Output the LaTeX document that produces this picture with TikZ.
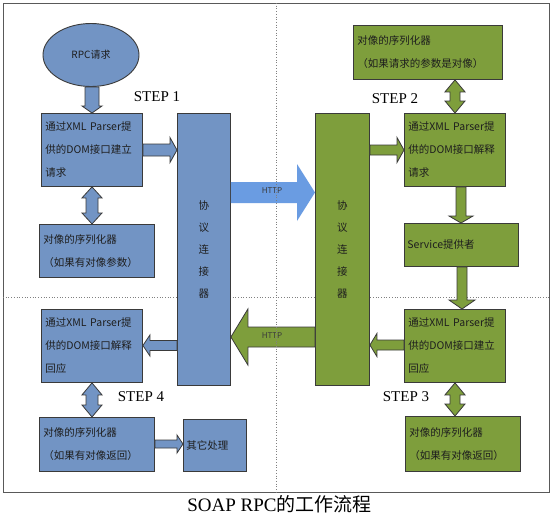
\documentclass[tikz,border=0pt]{standalone}
\usepackage{fontspec}
\setmainfont{Noto Sans CJK SC}
\newfontfamily\serifw{Liberation Serif}
\usetikzlibrary{calc,shapes.geometric}
\definecolor{bfill}{HTML}{7294C4}
\definecolor{gfill}{HTML}{7E9E3C}
\definecolor{hblue}{HTML}{6A9CE2}
\definecolor{edgec}{HTML}{3A3A3A}
\definecolor{txtc}{HTML}{1E1E1E}
% horizontal block arrow: style, from, to, Y, shaft half, head half, head length (signed)
\newcommand\harr[7]{\filldraw[#1] let \p1=(#2),\p2=(#3),\p3=(0,#4) in
 ({\x1},{\y3+#5pt}) -- ({\x2-(#7pt)},{\y3+#5pt}) -- ({\x2-(#7pt)},{\y3+#6pt}) -- ({\x2},{\y3})
 -- ({\x2-(#7pt)},{\y3-#6pt}) -- ({\x2-(#7pt)},{\y3-#5pt}) -- ({\x1},{\y3-#5pt}) -- cycle;}
% vertical block arrow going down
\newcommand\varr[7]{\filldraw[#1] let \p1=(#2),\p2=(#3),\p3=(#4,0) in
 ({\x3-#5pt},{\y1}) -- ({\x3-#5pt},{\y2+#7pt}) -- ({\x3-#6pt},{\y2+#7pt}) -- ({\x3},{\y2})
 -- ({\x3+#6pt},{\y2+#7pt}) -- ({\x3+#5pt},{\y2+#7pt}) -- ({\x3+#5pt},{\y1}) -- cycle;}
% vertical double block arrow
\newcommand\dvarr[7]{\filldraw[#1] let \p1=(#2),\p2=(#3),\p3=(#4,0) in
 ({\x3},{\y1}) -- ({\x3+#6pt},{\y1-#7pt}) -- ({\x3+#5pt},{\y1-#7pt}) -- ({\x3+#5pt},{\y2+#7pt})
 -- ({\x3+#6pt},{\y2+#7pt}) -- ({\x3},{\y2}) -- ({\x3-#6pt},{\y2+#7pt}) -- ({\x3-#5pt},{\y2+#7pt})
 -- ({\x3-#5pt},{\y1-#7pt}) -- ({\x3-#6pt},{\y1-#7pt}) -- cycle;}
\begin{document}
\begin{tikzpicture}[x=1pt,y=-1pt,
  box/.style={draw=edgec, line width=0.9pt, text=txtc, inner sep=0pt,
    font=\fontsize{10.5}{23}\selectfont, align=left, anchor=north west},
  bluebox/.style={box, fill=bfill},
  greenbox/.style={box, fill=gfill},
  protobox/.style={align=center, font=\fontsize{10.5}{22}\selectfont},
  barrow/.style={fill=bfill, draw=edgec, line width=0.8pt},
  garrow/.style={fill=gfill, draw=edgec, line width=0.8pt},
  harrow/.style={fill=hblue, draw=none},
  steplbl/.style={font=\serifw\fontsize{15}{18}\selectfont, text=black},
  httplbl/.style={font=\fontsize{8}{9}\selectfont, text=edgec}]
\useasboundingbox (0,0) rectangle (552,517);
\fill[white] (0,0) rectangle (552,517);
\draw[gray!70!black, line width=0.8pt] (3,3) rectangle (549,492);
\draw[gray, dotted, line width=0.7pt] (3,297) -- (549,297);

% left column
\node[ellipse, draw=edgec, line width=0.9pt, fill=bfill, minimum width=96pt, minimum height=63pt,
  inner sep=0pt, text=txtc, font=\fontsize{10}{12}\selectfont] (e) at (91,55) {RPC请求};
\node[bluebox, minimum width=101pt, minimum height=73pt, text width=93pt] (b1) at (41,113)
  {通过XML Parser提\\供的DOM接口建立\\请求};
\node[bluebox, minimum width=115pt, minimum height=53pt, text width=107pt] (b2) at (39,224)
  {对像的序列化器\\（如果有对像参数）};
\node[bluebox, protobox, minimum width=53pt, minimum height=272pt, text width=20pt] (p1) at (177,113)
  {协\\议\\连\\接\\器};
\node[bluebox, minimum width=101pt, minimum height=73pt, text width=93pt] (b4) at (41,309)
  {通过XML Parser提\\供的DOM接口解释\\回应};
\node[bluebox, minimum width=115pt, minimum height=54pt, text width=107pt] (b5) at (39,417)
  {对像的序列化器\\（如果有对像返回）};
\node[bluebox, minimum width=63pt, minimum height=52pt, text width=57pt] (oth) at (183,419)
  {其它处理};

% right column
\node[greenbox, protobox, minimum width=54pt, minimum height=272pt, text width=20pt] (p2) at (315,113)
  {协\\议\\连\\接\\器};
\node[greenbox, minimum width=149pt, minimum height=54pt, text width=141pt] (gt) at (353,25)
  {对像的序列化器\\（如果请求的参数是对像）};
\node[greenbox, minimum width=101pt, minimum height=73pt, text width=93pt] (g1) at (404,113)
  {通过XML Parser提\\供的DOM接口解释\\请求};
\node[greenbox, minimum width=114pt, minimum height=43pt, text width=108pt] (svc) at (404,223)
  {Service提供者};
\node[greenbox, minimum width=101pt, minimum height=73pt, text width=93pt] (g4) at (404,309)
  {通过XML Parser提\\供的DOM接口建立\\回应};
\node[greenbox, minimum width=115pt, minimum height=55pt, text width=107pt] (g5) at (405,416)
  {对像的序列化器\\（如果有对像返回）};

% arrows
\varr{barrow}{e.south}{b1.north}{92}{7}{10}{7}
\harr{barrow}{b1.east}{p1.west}{150}{6}{12.5}{7}
\dvarr{barrow}{b1.south}{b2.north}{92}{6}{10}{11}
\harr{harrow}{p1.east}{p2.west}{192.5}{10.5}{28.5}{18}
\harr{garrow}{p2.east}{g1.west}{150}{5}{12.5}{7}
\dvarr{garrow}{gt.south}{g1.north}{455}{5}{10}{12}
\varr{garrow}{g1.south}{svc.north}{461}{5}{12}{7}
\varr{garrow}{svc.south}{g4.north}{462}{5}{13}{9}
\harr{garrow}{g4.west}{p2.east}{345}{5}{11.5}{-7}
\dvarr{garrow}{g4.south}{g5.north}{455}{5}{10}{12}
\harr{garrow}{p2.west}{p1.east}{337}{10}{28}{-17}
\harr{barrow}{p1.west}{b4.east}{345.5}{5}{10.5}{-7}
\dvarr{barrow}{b4.south}{b5.north}{92}{6}{10}{12}
\harr{barrow}{b5.east}{oth.west}{444}{4}{9}{6}

\node[httplbl] (h1) at (272,191) {HTTP};
\node[httplbl] (h2) at (272,336) {HTTP};

\draw[gray, dotted, line width=0.7pt] (276,3) -- (276,492);

% labels
\node[steplbl] (s1) at (157,97) {STEP 1};
\node[steplbl] (s2) at (395,99) {STEP 2};
\node[steplbl] (s3) at (406,397) {STEP 3};
\node[steplbl] (s4) at (141,397) {STEP 4};
\node[font=\fontsize{19}{22}\selectfont, text=black] (title) at (279.5,504)
  {{\serifw SOAP RPC}的工作流程};
\end{tikzpicture}
\end{document}
